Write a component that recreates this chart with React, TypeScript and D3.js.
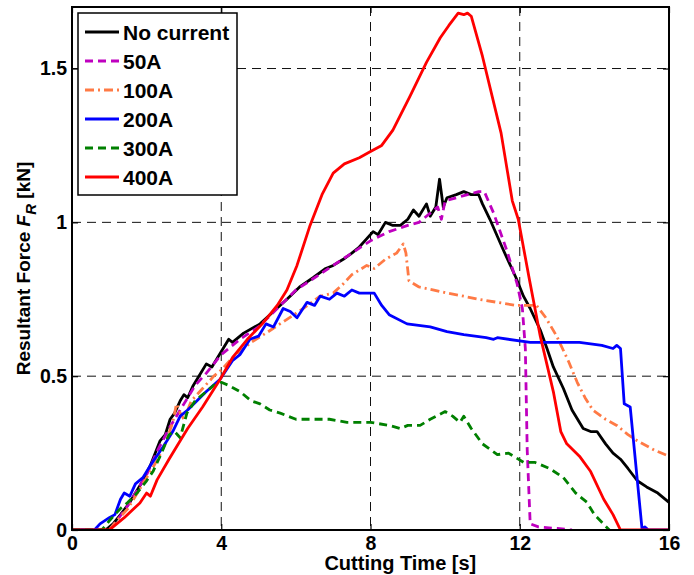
import React, { useRef, useEffect } from 'react';
import * as d3 from 'd3';

// series: [time (s), resultant force (kN)]
const noCurrent: [number, number][] = [
  [0, 0], [0.9, 0], [1.1, 0.02], [1.3, 0.05], [1.55, 0.09], [1.7, 0.12], [1.9, 0.16], [2.1, 0.21],
  [2.36, 0.29], [2.5, 0.31], [2.63, 0.36], [2.75, 0.38], [2.9, 0.42], [3.0, 0.44], [3.1, 0.43],
  [3.25, 0.47], [3.4, 0.5], [3.6, 0.54], [3.75, 0.53], [3.9, 0.56], [4.05, 0.59], [4.2, 0.62],
  [4.3, 0.61], [4.6, 0.64], [5.04, 0.67], [5.4, 0.71], [5.76, 0.75], [6.1, 0.79], [6.46, 0.82],
  [6.8, 0.85], [7.0, 0.86], [7.27, 0.88], [7.5, 0.9], [7.7, 0.92], [8.07, 0.97], [8.2, 0.96],
  [8.4, 1.0], [8.6, 0.99], [8.8, 0.99], [9.0, 1.01], [9.15, 1.04], [9.3, 1.02], [9.5, 1.06],
  [9.6, 1.02], [9.75, 1.05], [9.85, 1.14], [9.95, 1.05], [10.05, 1.08], [10.3, 1.09], [10.5, 1.1],
  [10.7, 1.09], [10.9, 1.09], [11.0, 1.06], [11.2, 1.01], [11.56, 0.91], [11.9, 0.82], [12.0, 0.79],
  [12.1, 0.76], [12.28, 0.72], [12.55, 0.65], [12.73, 0.59], [12.9, 0.53], [13.17, 0.46],
  [13.4, 0.39], [13.7, 0.33], [13.9, 0.32], [14.07, 0.32], [14.3, 0.28], [14.5, 0.25], [14.7, 0.23],
  [14.9, 0.2], [15.15, 0.16], [15.4, 0.14], [15.7, 0.12], [16, 0.09],
];

const amp50: [number, number][] = [
  [0, 0], [1.0, 0], [1.2, 0.03], [1.5, 0.08], [1.8, 0.14], [2.0, 0.18], [2.3, 0.26], [2.6, 0.33],
  [3.0, 0.41], [3.3, 0.47], [3.6, 0.51], [4.0, 0.57], [4.5, 0.62], [5.0, 0.66], [5.5, 0.72],
  [6.0, 0.78], [6.5, 0.82], [7.0, 0.86], [7.5, 0.9], [8.0, 0.94], [8.5, 0.97], [9.0, 0.99],
  [9.3, 1.0], [9.6, 1.03], [9.8, 1.05], [9.9, 1.01], [10.0, 1.07], [10.3, 1.08], [10.6, 1.09],
  [10.9, 1.1], [11.05, 1.1], [11.3, 1.03], [11.65, 0.91], [11.93, 0.8], [12.07, 0.72],
  [12.15, 0.59], [12.2, 0.26], [12.28, 0.02], [12.5, 0.01], [13.0, 0.005], [13.4, 0],
];

const amp100: [number, number][] = [
  [0, 0], [1.0, 0], [1.2, 0.03], [1.5, 0.07], [1.8, 0.13], [2.0, 0.17], [2.3, 0.23], [2.5, 0.28],
  [2.7, 0.35], [2.8, 0.41], [2.9, 0.38], [3.0, 0.36], [3.2, 0.42], [3.5, 0.46], [3.8, 0.5],
  [4.0, 0.52], [4.3, 0.56], [4.8, 0.61], [5.2, 0.64], [5.7, 0.68], [6.2, 0.72], [6.65, 0.76],
  [7.0, 0.77], [7.27, 0.8], [7.5, 0.83], [7.9, 0.86], [8.1, 0.85], [8.4, 0.88], [8.7, 0.9],
  [8.88, 0.93], [8.95, 0.9], [9.03, 0.81], [9.3, 0.79], [9.7, 0.78], [10.05, 0.77], [10.5, 0.76],
  [10.9, 0.75], [11.4, 0.74], [11.9, 0.73], [12.45, 0.73], [12.7, 0.69], [12.99, 0.63],
  [13.3, 0.55], [13.54, 0.48], [13.75, 0.43], [13.96, 0.39], [14.3, 0.36], [14.6, 0.34],
  [14.9, 0.31], [15.15, 0.29], [15.6, 0.26], [16, 0.24],
];

const amp200: [number, number][] = [
  [0, 0], [0.6, 0], [0.75, 0.02], [1.0, 0.04], [1.15, 0.05], [1.3, 0.1], [1.4, 0.12], [1.55, 0.11],
  [1.7, 0.15], [1.9, 0.17], [2.1, 0.21], [2.44, 0.27], [2.7, 0.32], [2.9, 0.37], [3.1, 0.39],
  [3.35, 0.42], [3.6, 0.45], [3.97, 0.49], [4.3, 0.55], [4.5, 0.57], [4.77, 0.62], [5.0, 0.63],
  [5.2, 0.67], [5.4, 0.66], [5.66, 0.72], [5.85, 0.71], [6.03, 0.69], [6.3, 0.74], [6.5, 0.73],
  [6.65, 0.76], [6.9, 0.75], [7.1, 0.77], [7.3, 0.76], [7.5, 0.78], [7.7, 0.77], [8.0, 0.77],
  [8.1, 0.77], [8.3, 0.73], [8.5, 0.7], [8.98, 0.67], [9.6, 0.66], [10.05, 0.645], [10.5, 0.635],
  [11.1, 0.625], [11.3, 0.62], [11.4, 0.625], [12.28, 0.61], [13.0, 0.61], [13.6, 0.61],
  [14.2, 0.6], [14.5, 0.59], [14.6, 0.6], [14.7, 0.59], [14.8, 0.41], [14.96, 0.4], [15.28, 0],
  [15.35, 0.01], [15.45, 0], [16, 0],
];

const amp300: [number, number][] = [
  [0, 0], [0.8, 0], [1.0, 0.03], [1.3, 0.07], [1.5, 0.09], [1.74, 0.12], [2.0, 0.16], [2.17, 0.19],
  [2.4, 0.25], [2.6, 0.31], [2.75, 0.32], [2.9, 0.3], [3.08, 0.38], [3.3, 0.42], [3.6, 0.45],
  [3.8, 0.47], [4.0, 0.48], [4.2, 0.47], [4.5, 0.45], [4.8, 0.42], [5.04, 0.41], [5.3, 0.39],
  [5.58, 0.38], [6.0, 0.36], [6.3, 0.36], [6.9, 0.36], [7.37, 0.35], [8.0, 0.35], [8.5, 0.34],
  [8.8, 0.33], [9.0, 0.34], [9.33, 0.34], [9.6, 0.36], [10.0, 0.385], [10.2, 0.37], [10.4, 0.35],
  [10.5, 0.37], [10.7, 0.33], [11.0, 0.28], [11.4, 0.245], [11.7, 0.25], [12.1, 0.22],
  [12.4, 0.22], [12.8, 0.2], [13.17, 0.17], [13.5, 0.12], [13.8, 0.09], [14.0, 0.05], [14.4, 0],
];

const amp400: [number, number][] = [
  [0, 0], [1.0, 0], [1.1, 0.01], [1.4, 0.04], [1.82, 0.088], [2.0, 0.12], [2.1, 0.11],
  [2.28, 0.163], [2.6, 0.23], [2.9, 0.29], [3.1, 0.33], [3.5, 0.4], [3.97, 0.49], [4.3, 0.56],
  [4.7, 0.62], [5.1, 0.67], [5.5, 0.73], [5.76, 0.78], [6.03, 0.86], [6.38, 0.99], [6.7, 1.09],
  [7.0, 1.16], [7.3, 1.19], [7.7, 1.21], [8.0, 1.23], [8.3, 1.25], [8.6, 1.3], [9.06, 1.41],
  [9.5, 1.52], [9.87, 1.6], [10.1, 1.64], [10.35, 1.68], [10.5, 1.675], [10.6, 1.68], [10.7, 1.67],
  [11.0, 1.54], [11.5, 1.29], [11.8, 1.07], [11.96, 1.01], [12.25, 0.82], [12.55, 0.63],
  [12.9, 0.45], [13.1, 0.32], [13.26, 0.28], [13.6, 0.24], [13.9, 0.19], [14.25, 0.1],
  [14.5, 0.05], [14.7, 0], [16, 0],
];

const seriesNames = ['No current', '50A', '100A', '200A', '300A', '400A'];
const seriesData = [noCurrent, amp50, amp100, amp200, amp300, amp400];
const seriesColors = ['#000000', '#BF00BF', '#FF7A45', '#0000FF', '#008000', '#FF0000'];
const seriesDash = [null, '8,5', '9,4,2,4', null, '8,5', null];

const xTicks = [0, 4, 8, 12, 16];
const yTicks = [0, 0.5, 1, 1.5];

const ForceChart = ({ width = 694, height = 575 }) => {
  const svgRef = useRef<SVGSVGElement>(null);

  useEffect(() => {
    d3.select(svgRef.current).selectAll('*').remove();

    const margin = { top: 7, right: 25, bottom: 45, left: 72 };
    const innerWidth = width - margin.left - margin.right;
    const innerHeight = height - margin.top - margin.bottom;
    const font = '"Liberation Sans", Arial, Helvetica, sans-serif';

    const svg = d3.select(svgRef.current).attr('width', width).attr('height', height);
    svg.append('rect').attr('width', width).attr('height', height).attr('fill', '#fff');

    const chart = svg.append('g').attr('transform', `translate(${margin.left},${margin.top})`);

    const xScale = d3.scaleLinear().domain([0, 16]).range([0, innerWidth]);
    const yScale = d3.scaleLinear().domain([0, 1.7]).range([innerHeight, 0]);

    // dashed grid
    const grid = chart.append('g').attr('stroke', '#111').attr('stroke-width', 1).attr('stroke-dasharray', '9,6');
    xTicks.slice(1, -1).forEach(t => {
      grid.append('line').attr('x1', xScale(t)).attr('x2', xScale(t)).attr('y1', 0).attr('y2', innerHeight);
    });
    yTicks.slice(1).forEach(t => {
      grid.append('line').attr('x1', 0).attr('x2', innerWidth).attr('y1', yScale(t)).attr('y2', yScale(t));
    });

    // clip for lines
    svg.append('defs').append('clipPath').attr('id', 'plot-clip')
      .append('rect').attr('x', 0).attr('y', 0).attr('width', innerWidth).attr('height', innerHeight);

    const line = d3.line<[number, number]>()
      .x(d => xScale(d[0]))
      .y(d => yScale(d[1]));

    const lines = chart.append('g').attr('clip-path', 'url(#plot-clip)');
    seriesData.forEach((data, i) => {
      lines.append('path')
        .datum(data)
        .attr('d', line)
        .attr('fill', 'none')
        .attr('stroke', seriesColors[i])
        .attr('stroke-width', 2.8)
        .attr('stroke-linejoin', 'round')
        .attr('stroke-dasharray', seriesDash[i]);
    });

    // axes box + inward ticks
    const xAxisBottom = d3.axisBottom(xScale).tickValues(xTicks).tickSize(-6).tickPadding(6).tickFormat(d3.format('d'));
    const yAxisLeft = d3.axisLeft(yScale).tickValues(yTicks).tickSize(-6).tickPadding(5).tickFormat(d => (d === 0 ? '0' : String(d)));

    const gx = chart.append('g').attr('transform', `translate(0,${innerHeight})`).call(xAxisBottom);
    const gy = chart.append('g').call(yAxisLeft);
    chart.append('g').call(d3.axisTop(xScale).tickValues(xTicks).tickSize(-6).tickFormat(() => ''));
    chart.append('g').attr('transform', `translate(${innerWidth},0)`)
      .call(d3.axisRight(yScale).tickValues(yTicks).tickSize(-6).tickFormat(() => ''));

    chart.selectAll('.domain').remove();
    chart.selectAll('.tick line').attr('stroke', '#000').attr('stroke-width', 1.2);
    [gx, gy].forEach(g => {
      g.selectAll('text')
        .attr('font-family', font)
        .attr('font-size', 19.5)
        .attr('font-weight', 'bold')
        .attr('fill', '#000');
    });

    chart.append('rect')
      .attr('width', innerWidth)
      .attr('height', innerHeight)
      .attr('fill', 'none')
      .attr('stroke', '#000')
      .attr('stroke-width', 2);

    // x label
    svg.append('text')
      .attr('x', margin.left + xScale(8.8))
      .attr('y', height - 5)
      .attr('text-anchor', 'middle')
      .attr('font-family', font)
      .attr('font-size', 20)
      .attr('font-weight', 'bold')
      .text('Cutting Time [s]');

    // y label
    const yl = svg.append('text')
      .attr('transform', `translate(30,${margin.top + innerHeight / 2}) rotate(-90)`)
      .attr('text-anchor', 'middle')
      .attr('font-family', font)
      .attr('font-size', 19)
      .attr('font-weight', 'bold');
    yl.append('tspan').text('Resultant Force ');
    yl.append('tspan').attr('font-style', 'italic').text('F');
    yl.append('tspan').attr('font-style', 'italic').attr('font-size', 15).attr('dy', 6).text('R');
    yl.append('tspan').attr('dy', -6).text(' [kN]');

    // legend
    const legend = svg.append('g').attr('transform', 'translate(78,13)');
    legend.append('rect')
      .attr('width', 159)
      .attr('height', 182)
      .attr('fill', '#fff')
      .attr('stroke', '#000')
      .attr('stroke-width', 1.5);
    seriesNames.forEach((name, i) => {
      const row = legend.append('g').attr('transform', `translate(0,${19 + i * 29})`);
      row.append('line')
        .attr('x1', 7).attr('x2', 41)
        .attr('stroke', seriesColors[i])
        .attr('stroke-width', 2.8)
        .attr('stroke-dasharray', seriesDash[i]);
      row.append('text')
        .attr('x', 45)
        .attr('y', 7.5)
        .attr('font-family', font)
        .attr('font-size', 21)
        .attr('font-weight', 'bold')
        .text(name);
    });
  }, [width, height]);

  return <svg ref={svgRef} style={{ display: 'block' }}></svg>;
};

export default function App() {
  return (
    <div style={{ position: 'absolute', left: 0, top: 0 }}>
      <ForceChart />
    </div>
  );
}
